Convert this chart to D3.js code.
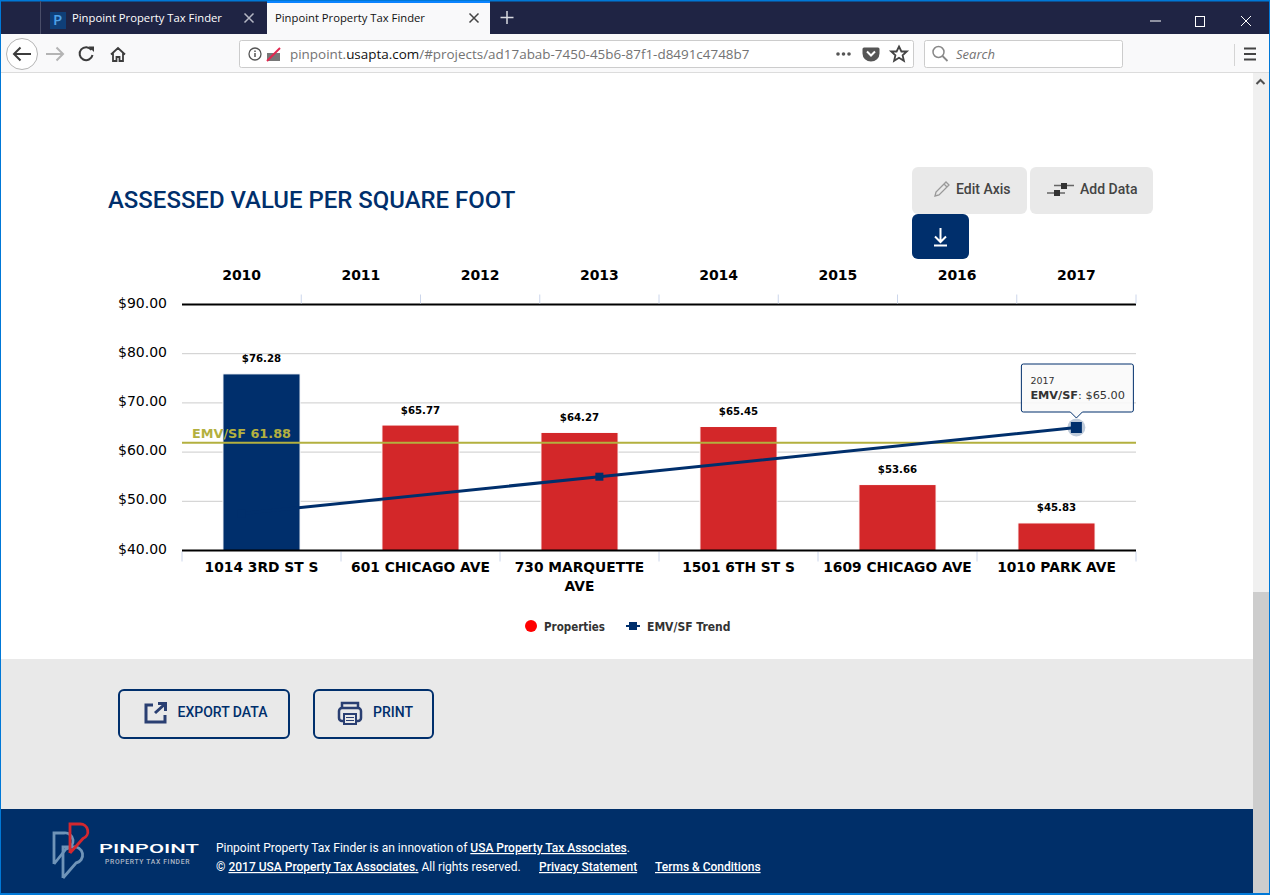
<!DOCTYPE html>
<html>
<head>
<meta charset="utf-8"/>
<title>Pinpoint Property Tax Finder</title>
<style>
html, body { margin: 0; padding: 0; overflow: hidden; background: #fff; }
svg { display: block; }
.chrome { font-family: "Open Sans", sans-serif; font-size: 12px; }
.page { font-family: Roboto, sans-serif; }
.chart text { font-family: "DejaVu Sans", sans-serif; fill: #000; }
.axis path { display: none; }
</style>
</head>
<body>
<div id="shot"></div>
<script src="https://d3js.org/d3.v7.min.js"></script>
<script>

// chart data
var years = ["2010", "2011", "2012", "2013", "2014", "2015", "2016", "2017"];
var properties = ["1014 3RD ST S", "601 CHICAGO AVE", "730 MARQUETTE AVE", "1501 6TH ST S", "1609 CHICAGO AVE", "1010 PARK AVE"];
var barValues = [75.9, 65.5, 64.0, 65.2, 53.4, 45.6];
var barLabels = ["$76.28", "$65.77", "$64.27", "$65.45", "$53.66", "$45.83"];
var trendYears = ["2010", "2013", "2017"];
var trendValues = [47.5, 55, 65];
var yTicks = [40, 50, 60, 70, 80, 90];
var emvValue = 61.88;

var navy = "#002f6c", red = "#d32729", olive = "#b3b03f", btnGrey = "#e9e9e9";

var svg = d3.select("#shot").append("svg").attr("width", 1270).attr("height", 895);

function rect(g, x, y, w, h, fill, r) {
	return g.append("rect").attr("x", x).attr("y", y).attr("width", w).attr("height", h)
		.attr("fill", fill).attr("rx", r || 0);
}
function label(g, x, y, str, size, fill, weight) {
	return g.append("text").attr("x", x).attr("y", y).attr("font-size", size)
		.attr("fill", fill).attr("font-weight", weight || 400).text(str);
}
function stroke(g, d, col, w) {
	return g.append("path").attr("d", d).attr("fill", "none").attr("stroke", col).attr("stroke-width", w);
}
function solid(g, d, col) {
	return g.append("path").attr("d", d).attr("fill", col);
}

// ***************
// Browser window
// ***************
var chrome = svg.append("g").attr("class", "chrome");
rect(chrome, 0, 0, 1270, 34, "#1f2444");
rect(chrome, 0, 0, 1270, 1.5, "#0078d7");
rect(chrome, 40, 1, 1, 33, "#4a4e69");

// favicon and tabs
rect(chrome, 50, 12, 16, 17, "#0f3f78");
label(chrome, 53, 25, "P", 15, "#4ea1e8", 600);
label(chrome, 72, 22, "Pinpoint Property Tax Finder", 11.25, "#fff");
stroke(chrome, "M244.5 13.5l9 9m0-9l-9 9", "#b5b7c4", 1.5);
rect(chrome, 267, 1, 223, 33, "#f9f9fa");
rect(chrome, 267, 1, 223, 2, "#0a84ff");
label(chrome, 275, 22, "Pinpoint Property Tax Finder", 11.25, "#111");
stroke(chrome, "M469.5 13.5l9 9m0-9l-9 9", "#444", 1.5);
stroke(chrome, "M507 11v13M500.5 17.5h13", "#d8d9e0", 1.5);

// window buttons
stroke(chrome, "M1150 21h11", "#fff", 1);
chrome.append("rect").attr("x", 1195.5).attr("y", 16.5).attr("width", 9).attr("height", 10)
	.attr("fill", "none").attr("stroke", "#fff");
stroke(chrome, "M1241 16l10 10m0-10l-10 10", "#fff", 1);

// toolbar
rect(chrome, 0, 34, 1270, 38, "#f9f9fa");
rect(chrome, 0, 72, 1270, 1, "#dcdcdc");
chrome.append("circle").attr("cx", 22).attr("cy", 54).attr("r", 15.5).attr("fill", "#fff").attr("stroke", "#b5b5b5");
stroke(chrome, "M31 54H14M20.5 47.5L14 54l6.5 6.5", "#3c3c3c", 2);
stroke(chrome, "M46 54h16M56.5 47.5L63 54l-6.5 6.5", "#b4b4b4", 2);
stroke(chrome, "M91.5 50a6.5 6.5 0 1 0 1 5", "#3c3c3c", 2);
solid(chrome, "M88.5 46.5h5.5v5.5z", "#3c3c3c");
stroke(chrome, "M111 54.5l7-6.5l7 6.5M113 53v8h3.5v-4h3v4h3.5v-8", "#3c3c3c", 1.8);

// url bar
chrome.append("rect").attr("x", 239.5).attr("y", 40.5).attr("width", 674).attr("height", 27).attr("rx", 2)
	.attr("fill", "#fff").attr("stroke", "#ccc");
chrome.append("circle").attr("cx", 255).attr("cy", 54).attr("r", 6).attr("fill", "none").attr("stroke", "#555").attr("stroke-width", 1.3);
stroke(chrome, "M255 53v4M255 50.5v1.5", "#555", 1.5);
rect(chrome, 267, 53, 13, 8, "#777");
stroke(chrome, "M267 61l13-13", "#e22850", 2);
var url = chrome.append("text").attr("x", 290).attr("y", 59).attr("font-size", 13.45).attr("fill", "#737373");
url.append("tspan").text("pinpoint.");
url.append("tspan").attr("fill", "#111").text("usapta.com");
url.append("tspan").text("/#projects/ad17abab-7450-45b6-87f1-d8491c4748b7");
[838, 843.5, 849].forEach(function(x) {
	chrome.append("circle").attr("cx", x).attr("cy", 54).attr("r", 1.8).attr("fill", "#555");
});
solid(chrome, "M864 47.5h14a1.5 1.5 0 0 1 1.5 1.5v4.5a8.5 8 0 0 1-17 0v-4.5a1.5 1.5 0 0 1 1.5-1.5z", "#555");
stroke(chrome, "M867 51.5l4 4l4-4", "#fff", 2);
stroke(chrome, "M899 46.5l2.4 5h5.4l-4.2 3.8l1.3 5.5l-4.9-3l-4.9 3l1.3-5.5l-4.2-3.8h5.4z", "#444", 1.8);

// search box
chrome.append("rect").attr("x", 924.5).attr("y", 40.5).attr("width", 198).attr("height", 27).attr("rx", 2)
	.attr("fill", "#fff").attr("stroke", "#ccc");
chrome.append("circle").attr("cx", 938.5).attr("cy", 52).attr("r", 5.5).attr("fill", "none").attr("stroke", "#888").attr("stroke-width", 1.5);
stroke(chrome, "M942.5 56l5 5", "#888", 1.8);
label(chrome, 956, 59, "Search", 13, "#737373").attr("font-style", "italic");
rect(chrome, 1234, 44, 1, 22, "#d4d4d4");
stroke(chrome, "M1244 48.5h12M1244 54h12M1244 59.5h12", "#444", 2);

// ***************
// Page
// ***************
var page = svg.append("g").attr("class", "page");
rect(page, 1, 73, 1252, 586, "#fff");
rect(page, 1, 659, 1252, 150, btnGrey);
rect(page, 1, 809, 1252, 85, "#002f69");

// scrollbar and window edge
rect(page, 1253, 73, 16, 822, "#f0f0f0");
rect(page, 1253, 592, 16, 303, "#cdcdcd");
stroke(page, "M1256.5 84l4-4l4 4", "#505050", 2);
rect(page, 0, 0, 1, 895, "#0078d7");
rect(page, 1269, 0, 1, 895, "#0078d7");
rect(page, 0, 893, 1270, 2, "#0078d7");

label(page, 108, 208, "ASSESSED VALUE PER SQUARE FOOT", 23.95, navy, 500);

// chart tool buttons
rect(page, 912, 167, 115, 47, btnGrey, 6);
rect(page, 1030, 167, 123, 47, btnGrey, 6);
rect(page, 912, 214, 57, 45, navy, 6);
stroke(page, "M935 196l1-4l10-10l3 3l-10 10zM944 184l3 3", "#999", 1.3);
label(page, 956, 194, "Edit Axis", 14, "#444", 500);
stroke(page, "M1047 193h18M1054 185.5h20", "#666", 1.3);
rect(page, 1054, 190, 6, 6, "#333");
rect(page, 1061, 183, 6, 6, "#333");
label(page, 1080, 194, "Add Data", 14, "#444", 500);
stroke(page, "M940.5 228v13M935 236.5l5.5 5.5l5.5-5.5M934 245.5h13", "#fff", 2);

// bottom buttons
page.append("rect").attr("x", 119).attr("y", 690).attr("width", 170).attr("height", 48).attr("rx", 5)
	.attr("fill", "none").attr("stroke", navy).attr("stroke-width", 2);
page.append("rect").attr("x", 314).attr("y", 690).attr("width", 119).attr("height", 48).attr("rx", 5)
	.attr("fill", "none").attr("stroke", navy).attr("stroke-width", 2);
stroke(page, "M153 705h-7v17h19v-7M155 713l10-9M158 703.5h7.5v7.5", "#2a3f72", 3);
label(page, 177.5, 717, "EXPORT DATA", 14, navy, 500);
stroke(page, "M342 708v-5h16v5", "#2a3f72", 2.5);
page.append("rect").attr("x", 339).attr("y", 708).attr("width", 22).attr("height", 13).attr("rx", 3)
	.attr("fill", "none").attr("stroke", "#2a3f72").attr("stroke-width", 2.5);
page.append("rect").attr("x", 344).attr("y", 714).attr("width", 12).attr("height", 10)
	.attr("fill", btnGrey).attr("stroke", "#2a3f72").attr("stroke-width", 2);
stroke(page, "M346 717.5h8M346 720.5h8", "#2a3f72", 1.2);
label(page, 373, 717, "PRINT", 14, navy, 500);

// footer logo
stroke(page, "M54 864V833h10a8 8 0 0 1 2 16l-12 15", "#6f94b8", 2.8);
stroke(page, "M63 878V847h10a8 8 0 0 1 3 16l-13 15", "#6f94b8", 2.8);
stroke(page, "M70 853V824h10a7.5 7.5 0 0 1 3 14.5l-13 14.5", "#d3282f", 2.8);
label(page, 99, 853, "PINPOINT", 13, "#fff", 500)
	.attr("textLength", 100).attr("lengthAdjust", "spacingAndGlyphs");
label(page, 105, 864, "PROPERTY TAX FINDER", 6.8, "#aeb7c6", 500).attr("letter-spacing", 0.65);

// footer text
var foot1 = page.append("text").attr("x", 216).attr("y", 852).attr("font-size", 12).attr("fill", "#fff");
foot1.append("tspan").text("Pinpoint Property Tax Finder is an innovation of ");
foot1.append("tspan").attr("font-weight", 500).attr("text-decoration", "underline").text("USA Property Tax Associates");
foot1.append("tspan").text(".");
var foot2 = page.append("text").attr("x", 216).attr("y", 871).attr("font-size", 12).attr("fill", "#fff");
foot2.append("tspan").attr("font-weight", 500).text("© ");
foot2.append("tspan").attr("font-weight", 500).attr("text-decoration", "underline").text("2017 USA Property Tax Associates.");
foot2.append("tspan").text(" All rights reserved.");
label(page, 539, 871, "Privacy Statement", 12, "#fff", 500).attr("text-decoration", "underline");
label(page, 655, 871, "Terms & Conditions", 12, "#fff", 500).attr("text-decoration", "underline");

// ***************
// Chart
// ***************
var plotLeft = 182, plotRight = 1136, plotTop = 304.5, plotBottom = 550.5;
var chart = svg.append("g").attr("class", "chart");

var y = d3.scaleLinear().domain([40, 90]).range([plotBottom, plotTop]);
var xYear = d3.scaleBand().domain(years).range([plotLeft, plotRight]);
var xProp = d3.scaleBand().domain(properties).range([plotLeft, plotRight]);
var xBar = d3.scaleBand().domain(properties).range([plotLeft, plotRight]).paddingInner(0.515).paddingOuter(0.2575);

// y axis with gridlines
chart.append("g").attr("class", "axis")
	.attr("transform", "translate(" + plotLeft + ",0)")
	.call(d3.axisLeft(y).tickValues(yTicks).tickSize(0).tickPadding(15)
		.tickFormat(function(d) { return "$" + d3.format(".2f")(d); }))
	.call(function(g) {
		g.selectAll("text").attr("font-size", 14).attr("dy", "0.18em");
	});
chart.selectAll(".grid").data(yTicks.slice(1)).enter().append("line")
	.attr("x1", plotLeft).attr("x2", plotRight)
	.attr("y1", function(d) { return y(d); }).attr("y2", function(d) { return y(d); })
	.attr("stroke", function(d) { return d == 90 ? "#000" : "#ccc"; })
	.attr("stroke-width", function(d) { return d == 90 ? 2 : 1; });

// tick marks sit between the categories
var yearEdges = years.map(function(d) { return xYear(d) + xYear.step(); });
chart.selectAll(".ytick").data(yearEdges).enter().append("line")
	.attr("x1", function(d) { return d; }).attr("x2", function(d) { return d; })
	.attr("y1", plotTop - 10).attr("y2", plotTop - 1)
	.attr("stroke", "#ccd6eb");
var propEdges = [plotLeft].concat(properties.map(function(d) { return xProp(d) + xProp.step(); }));
chart.selectAll(".ptick").data(propEdges).enter().append("line")
	.attr("x1", function(d) { return d; }).attr("x2", function(d) { return d; })
	.attr("y1", plotBottom + 1).attr("y2", plotBottom + 11)
	.attr("stroke", "#ccd6eb");

// year axis on top
chart.append("g").attr("class", "axis")
	.attr("transform", "translate(0," + plotTop + ")")
	.call(d3.axisTop(xYear).tickSize(0).tickPadding(24.5))
	.call(function(g) {
		g.selectAll("text").attr("font-size", 14).attr("font-weight", 700);
	});

// property axis at the bottom, long names wrap
chart.append("g").attr("class", "axis")
	.attr("transform", "translate(0," + plotBottom + ")")
	.call(d3.axisBottom(xProp).tickSize(0).tickPadding(0))
	.call(function(g) {
		g.selectAll("text").attr("font-size", 13.8).attr("font-weight", 700)
			.attr("dy", null).each(wrapName);
	});

function wrapName() {
	var t = d3.select(this), words = t.text().split(" "), line = [], ln = 0;
	t.text(null);
	var span = t.append("tspan").attr("x", 0).attr("y", 21.5);
	words.forEach(function(w) {
		line.push(w);
		span.text(line.join(" "));
		if (span.node().getComputedTextLength() > 150 && line.length > 1) {
			line.pop();
			span.text(line.join(" "));
			line = [w];
			ln++;
			span = t.append("tspan").attr("x", 0).attr("y", 21.5 + ln * 19).text(w);
		}
	});
}

// bars
chart.selectAll(".bar").data(properties).enter().append("rect")
	.attr("x", function(d) { return xBar(d); })
	.attr("width", xBar.bandwidth())
	.attr("y", function(d, i) { return y(barValues[i]); })
	.attr("height", function(d, i) { return plotBottom - y(barValues[i]); })
	.attr("fill", function(d, i) { return i == 0 ? navy : red; })
	.attr("stroke", "#fff").attr("stroke-width", 1);

// baseline goes over the bars
chart.append("line").attr("x1", plotLeft).attr("x2", plotRight)
	.attr("y1", y(yTicks[0])).attr("y2", y(yTicks[0]))
	.attr("stroke", "#000").attr("stroke-width", 2);

chart.selectAll(".barlabel").data(properties).enter().append("text")
	.attr("x", function(d) { return xBar(d) + xBar.bandwidth() / 2; })
	.attr("y", function(d, i) { return y(barValues[i]) - 11.5; })
	.attr("text-anchor", "middle").attr("font-size", 10.2).attr("font-weight", 700)
	.text(function(d, i) { return barLabels[i]; });

// EMV/SF reference line
chart.append("line").attr("x1", plotLeft).attr("x2", plotRight)
	.attr("y1", y(emvValue)).attr("y2", y(emvValue))
	.attr("stroke", olive).attr("stroke-width", 2);
chart.append("text").attr("x", 192).attr("y", y(emvValue) - 5)
	.attr("font-size", 12.8).attr("font-weight", 700).style("fill", olive)
	.text("EMV/SF " + emvValue);

// trend line
var trendX = function(d) { return xYear(d) + xYear.bandwidth() / 2; };
var line = d3.line()
	.x(function(d) { return trendX(d); })
	.y(function(d, i) { return y(trendValues[i]); });
chart.append("path").datum(trendYears).attr("d", line)
	.attr("fill", "none").attr("stroke", navy).attr("stroke-width", 3);
chart.selectAll(".marker").data(trendYears).enter().append("rect")
	.attr("x", function(d) { return trendX(d) - 4; })
	.attr("y", function(d, i) { return y(trendValues[i]) - 4; })
	.attr("width", 8).attr("height", 8).attr("fill", navy);

// hovered point and its tooltip
var lastYear = trendYears[trendYears.length - 1], lastValue = trendValues[trendValues.length - 1];
var hx = trendX(lastYear), hy = y(lastValue);
chart.append("circle").attr("cx", hx).attr("cy", hy).attr("r", 9).attr("fill", navy).attr("opacity", 0.25);
chart.append("rect").attr("x", hx - 5.5).attr("y", hy - 5.5).attr("width", 11).attr("height", 11).attr("fill", navy);

var tip = chart.append("g").attr("transform", "translate(" + hx + "," + hy + ")");
tip.append("path")
	.attr("d", "M-53 -63.5h108a2 2 0 0 1 2 2v44a2 2 0 0 1-2 2h-49l-6 6l-6-6h-47a2 2 0 0 1-2-2v-44a2 2 0 0 1 2-2z")
	.attr("fill", "#f9f9f9").attr("fill-opacity", 0.9).attr("stroke", navy).attr("stroke-width", 1);
tip.append("text").attr("x", -46).attr("y", -44).attr("font-size", 9.5).style("fill", "#333").text(lastYear);
var tipText = tip.append("text").attr("x", -46).attr("y", -29).attr("font-size", 11.3).style("fill", "#333");
tipText.append("tspan").attr("font-weight", 700).text("EMV/SF");
tipText.append("tspan").text(": $" + d3.format(".2f")(lastValue));

// legend
chart.append("circle").attr("cx", 531).attr("cy", 626).attr("r", 6).attr("fill", "#f00");
chart.append("text").attr("x", 544).attr("y", 631).attr("font-size", 11.5).attr("font-weight", 700)
	.attr("font-stretch", "condensed").style("fill", "#333").text("Properties");
chart.append("line").attr("x1", 626).attr("x2", 640).attr("y1", 626).attr("y2", 626)
	.attr("stroke", navy).attr("stroke-width", 2);
chart.append("rect").attr("x", 629).attr("y", 622).attr("width", 8).attr("height", 8).attr("fill", navy);
chart.append("text").attr("x", 647).attr("y", 631).attr("font-size", 12).attr("font-weight", 700)
	.attr("font-stretch", "condensed").style("fill", "#333").text("EMV/SF Trend");

</script>
</body>
</html>
